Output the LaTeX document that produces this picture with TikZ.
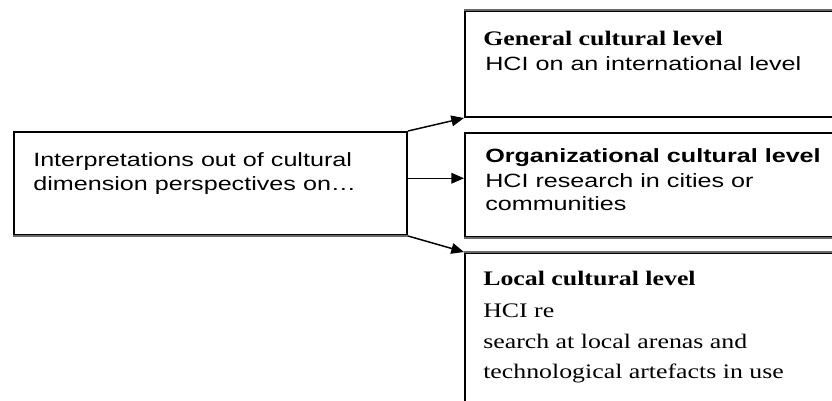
\documentclass[tikz,border=0pt]{standalone}
\usepackage{fontspec}
\setmainfont{Liberation Serif}
\setsansfont{Liberation Sans}
\usetikzlibrary{arrows.meta,fit,calc}
\newcommand{\hsq}[1]{\scalebox{1.31}[1]{#1}}
\newcommand{\hsr}[1]{\scalebox{1.25}[1]{#1}}
\definecolor{edgegray}{RGB}{105,105,105}
\begin{document}
\begin{tikzpicture}[x=0.75pt,y=-0.75pt,
  box/.style={draw=black, line width=1.5pt, inner sep=0pt},
  arr/.style={line width=1.1pt, -{Triangle[length=9.5pt,width=8pt]}},
  sanstxt/.style={anchor=base west, inner sep=0pt, font=\sffamily\fontsize{14.4pt}{17pt}\selectfont},
  seriftxt/.style={anchor=base west, inner sep=0pt, font=\rmfamily\fontsize{15.5pt}{18pt}\selectfont},
  grayedge/.style={draw=edgegray, line width=1.5pt}]
\useasboundingbox (0,0) rectangle (832,400);
\clip (0,0) rectangle (832,400);
% boxes
\node[box, fit={(14,132) (407,235)}] (left) {};
\node[box, fit={(465,11) (845,117)}] (top) {};
\node[box, fit={(465,133) (845,237)}] (mid) {};
\node[box, fit={(465,253) (845,420)}] (bot) {};
% gray edges
\draw[grayedge] (left.south west) -- (left.south east);
\draw[grayedge] (top.north west) -- (top.north east);
\draw[grayedge] (mid.south west) -- (mid.south east);
\draw[grayedge] (bot.north west) -- (bot.north east);
% connectors
\draw[arr] (left.north east) -- (top.south west);
\coordinate (lm) at ($(left.north east)!0.45!(left.south east)$);
\draw[arr] (lm) -- (mid.west |- lm);
\draw[arr] (left.south east) -- (bot.north west);
% left text
\node[sanstxt] (l1) at (33,166) {\hsq{Interpretations out of cultural}};
\node[sanstxt] (l2) at (33,190) {\hsq{dimension perspectives on…}};
% top text
\node[seriftxt] (t1) at (483,45) {\hsr{\bfseries General cultural level}};
\node[sanstxt] (t2) at (485,70) {\hsq{HCI on an international level}};
% middle text
\node[sanstxt] (m1) at (485,162) {\hsq{\bfseries Organizational cultural level}};
\node[sanstxt] (m2) at (485,187) {\hsq{HCI research in cities or}};
\node[sanstxt] (m3) at (485,210) {\hsq{communities}};
% bottom text
\node[seriftxt] (b1) at (483,285) {\hsr{\bfseries Local cultural level}};
\node[seriftxt] (b2) at (483,317) {\hsr{HCI re}};
\node[seriftxt] (b3) at (483,348) {\hsr{search at local arenas and}};
\node[seriftxt] (b4) at (483,378) {\hsr{technological artefacts in use}};
\end{tikzpicture}
\end{document}
